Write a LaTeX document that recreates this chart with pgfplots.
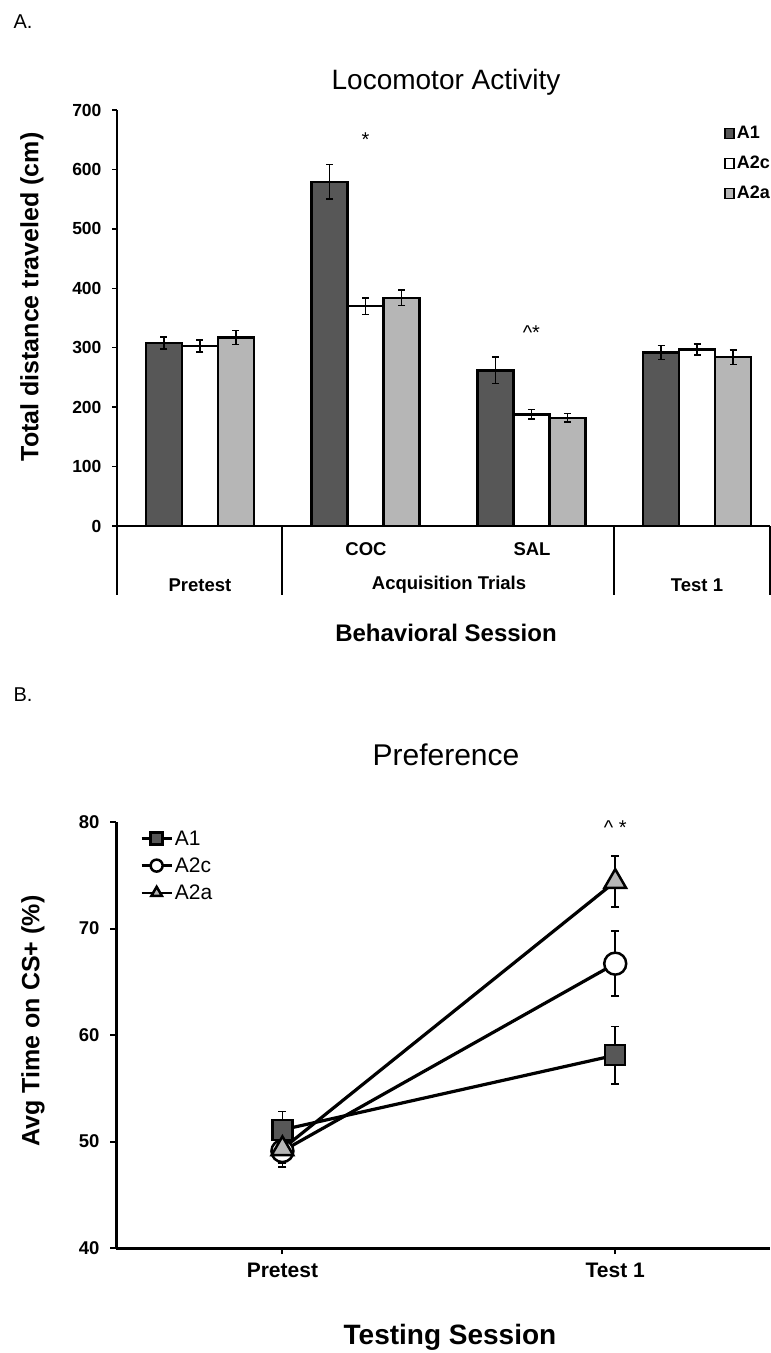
\documentclass[border=0pt]{standalone}
\usepackage{fontspec}
\setmainfont{Liberation Sans}
\usepackage{pgfplots}
\pgfplotsset{compat=1.18}
\usepackage{pgfplotstable}
\definecolor{dg}{HTML}{575757}
\definecolor{lg}{HTML}{B6B6B6}

\pgfplotstableread{
x y e
0 308 10
1 579 29
2 262 22
3 292 12
}\AoneT
\pgfplotstableread{
x y e
0 303 10
1 370 14
2 188 8
3 297 9
}\AtwocT
\pgfplotstableread{
x y e
0 317 12
1 384 13
2 182 7
3 284 12
}\AtwoaT

\pgfplotstableread{
x y e
0 51.1 1.7
1 58.1 2.7
}\BoneT
\pgfplotstableread{
x y e
0 49.1 1.5
1 66.7 3.05
}\BtwocT
\pgfplotstableread{
x y e
0 49.3 1.3
1 74.4 2.4
}\BtwoaT

\newcommand{\fs}[1]{\fontsize{#1}{#1}\selectfont}

\begin{document}
\begin{tikzpicture}[x=1pt,y=1pt]
\path[use as bounding box] (0,0) rectangle (771,1353);

% ---------- Panel A ----------
\node[anchor=west,font=\fs{20}] at (10,1331) {A.};
\node[font=\fs{28}] at (446,1271) {Locomotor Activity};
\node[rotate=90,font=\fs{25}\bfseries] at (32,1056) {Total distance traveled (cm)};

\begin{axis}[
  at={(117pt,827pt)}, anchor=south west, scale only axis,
  width=653pt, height=416pt,
  xmin=-0.5, xmax=3.44, ymin=0, ymax=700, ytick={0,100,...,700},
  xtick=\empty,
  axis x line=bottom, axis y line=left,
  axis line style={-, line width=2pt, black},
  tick align=outside, major tick length=5pt,
  tick style={line width=1.5pt, black},
  yticklabel style={font=\fs{17.5}\bfseries, xshift=-7pt},
  /pgf/number format/assume math mode=true,
  ybar, bar width=0.2173, clip=false,
  legend style={at={(0.93,0.966)}, anchor=north west, draw=none, fill=none,
    font=\fs{18}\bfseries, row sep=12pt, inner sep=0pt,
    legend cell align=left},
  legend image code/.code={\draw[#1, line width=1.5pt] (0pt,-5pt) rectangle (9pt,5pt);},
  error bars/error bar style={line width=1.5pt, black},
  error bars/error mark options={rotate=90, mark size=3.5pt, line width=1.5pt, black},
]
\addplot[draw=black, line width=2.5pt, fill=dg, bar shift=-0.2173,
  error bars/y dir=both, error bars/y explicit]
  table[x=x, y=y, y error=e] {\AoneT};
\addlegendentry{A1}
\addplot[draw=black, line width=2.5pt, fill=white, bar shift=0,
  error bars/y dir=both, error bars/y explicit]
  table[x=x, y=y, y error=e] {\AtwocT};
\addlegendentry{A2c}
\addplot[draw=black, line width=2.5pt, fill=lg, bar shift=0.2173,
  error bars/y dir=both, error bars/y explicit]
  table[x=x, y=y, y error=e] {\AtwoaT};
\addlegendentry{A2a}
\node[font=\fs{20}] at (axis cs:1,650) {*};
\node[font=\fs{20}] at (axis cs:2,325) {\textasciicircum*};
\end{axis}

% category box lines and labels
\foreach \xx in {117,282,614,770} {\draw[line width=2pt] (\xx,827) -- (\xx,758);}
\node[font=\fs{18.5}\bfseries] at (366,804) {COC};
\node[font=\fs{18.5}\bfseries] at (532,804) {SAL};
\node[font=\fs{18.5}\bfseries] at (200,768) {Pretest};
\node[font=\fs{18.5}\bfseries] at (449,768) {Acquisition Trials};
\node[font=\fs{18.5}\bfseries] at (697,768) {Test 1};
\node[font=\fs{24}\bfseries] at (446,720) {Behavioral Session};

% ---------- Panel B ----------
\node[anchor=west,font=\fs{20}] at (10,658) {B.};
\node[font=\fs{30}] at (446,598) {Preference};
\node[rotate=90,font=\fs{25}\bfseries] at (33,332) {Avg Time on CS+ (\%)};

\begin{axis}[
  at={(116pt,105pt)}, anchor=south west, scale only axis,
  width=654pt, height=426pt,
  xmin=-0.5, xmax=1.465, ymin=40, ymax=80, ytick={40,50,...,80},
  xtick={0,1}, xticklabels={Pretest,Test 1},
  axis x line=bottom, axis y line=left,
  axis line style={-, line width=3pt, black},
  tick align=outside, major tick length=6pt,
  tick style={line width=2pt, black},
  yticklabel style={font=\fs{18.5}\bfseries, xshift=-7pt},
  xticklabel style={font=\fs{21}\bfseries, yshift=-6pt},
  /pgf/number format/assume math mode=true,
  clip=false,
  legend style={at={(0.037,0.985)}, anchor=north west, draw=none, fill=none,
    font=\fs{21}, row sep=7pt, inner sep=0pt, legend cell align=left},
  legend image code/.code={\draw[mark repeat=2, mark phase=2, #1, line width=2.5pt, mark size=6pt]
     plot coordinates {(0pt,0pt) (15pt,0pt) (30pt,0pt)};},
  error bars/error bar style={line width=1.5pt, black},
  error bars/error mark options={rotate=90, mark size=4pt, line width=1.5pt, black},
]
\addplot[black, line width=3.2pt, mark=square*, mark size=10pt,
  mark options={fill=dg, line width=2.5pt, draw=black},
  error bars/y dir=both, error bars/y explicit]
  table[x=x, y=y, y error=e] {\BoneT};
\addlegendentry{A1}
\addplot[black, line width=3.2pt, mark=*, mark size=11pt,
  mark options={fill=white, line width=2.5pt, draw=black},
  error bars/y dir=both, error bars/y explicit]
  table[x=x, y=y, y error=e] {\BtwocT};
\addlegendentry{A2c}
\addplot[black, line width=3.2pt, mark=triangle*, mark size=12.5pt,
  mark options={fill=lg, line width=2.5pt, draw=black},
  error bars/y dir=both, error bars/y explicit]
  table[x=x, y=y, y error=e] {\BtwoaT};
\addlegendentry{A2a}
\node[font=\fs{20}] at (axis cs:1,79.5) {\textasciicircum\ *};
\end{axis}
\node[font=\fs{28}\bfseries] at (450,16) {Testing Session};
\end{tikzpicture}
\end{document}
